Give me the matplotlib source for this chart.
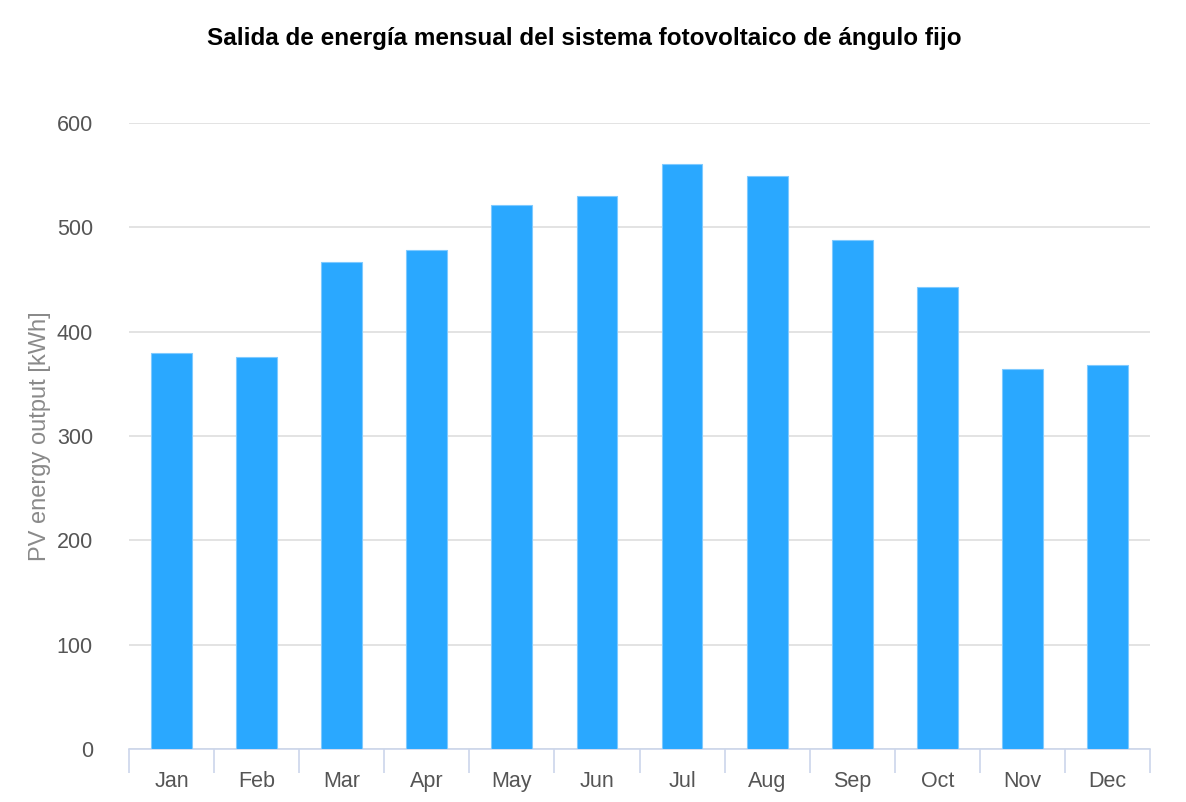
import matplotlib.pyplot as plt
import numpy as np

months = ['Jan', 'Feb', 'Mar', 'Apr', 'May', 'Jun', 'Jul', 'Aug', 'Sep', 'Oct', 'Nov', 'Dec']
output_kwh = [380, 376, 467, 478, 521, 530, 561, 549, 488, 443, 364, 368]
y_ticks = [0, 100, 200, 300, 400, 500, 600]

plt.rcParams['font.family'] = ['Liberation Sans', 'DejaVu Sans']

fig = plt.figure(figsize=(11.86, 8.02), dpi=100)
ax = fig.add_axes([129 / 1186, (802 - 749) / 802, (1150 - 129) / 1186, (749 - 123) / 802])

x = np.arange(len(months))
ax.bar(x, output_kwh, width=0.48, color='#2aa8ff', edgecolor='#7fcaff', linewidth=0.8, zorder=3)

ax.set_xlim(-0.5, len(months) - 0.5)
ax.set_ylim(0, 600)
ax.set_yticks(y_ticks)
ax.set_yticklabels([str(v) for v in y_ticks])
ax.yaxis.grid(True, color='#dedede', linewidth=1.2, zorder=0)
ax.tick_params(axis='y', length=0, pad=26, labelsize=15.5, labelcolor='#555555')

# category boundaries carry the ticks, labels sit in the middle
ax.set_xticks(np.arange(-0.5, len(months)), minor=False)
ax.set_xticklabels([''] * (len(months) + 1))
ax.set_xticks(x, minor=True)
ax.set_xticklabels(months, minor=True)
ax.tick_params(axis='x', which='major', length=17, width=1.2, color='#ccd6eb')
ax.tick_params(axis='x', which='minor', length=0, pad=16, labelsize=15.5, labelcolor='#555555')

for side in ['top', 'right', 'left']:
    ax.spines[side].set_visible(False)
ax.spines['bottom'].set_color('#ccd6eb')
ax.spines['bottom'].set_linewidth(1.2)

ax.set_ylabel('PV energy output [kWh]', fontsize=17, color='#8a8a8a')
ax.yaxis.set_label_coords(-0.076, 0.5)

fig.text(0.493, 0.952, 'Salida de energía mensual del sistema fotovoltaico de ángulo fijo',
         ha='center', va='center', fontsize=17.5, fontweight='bold', color='black')

fig.savefig('out.png', dpi=100)
